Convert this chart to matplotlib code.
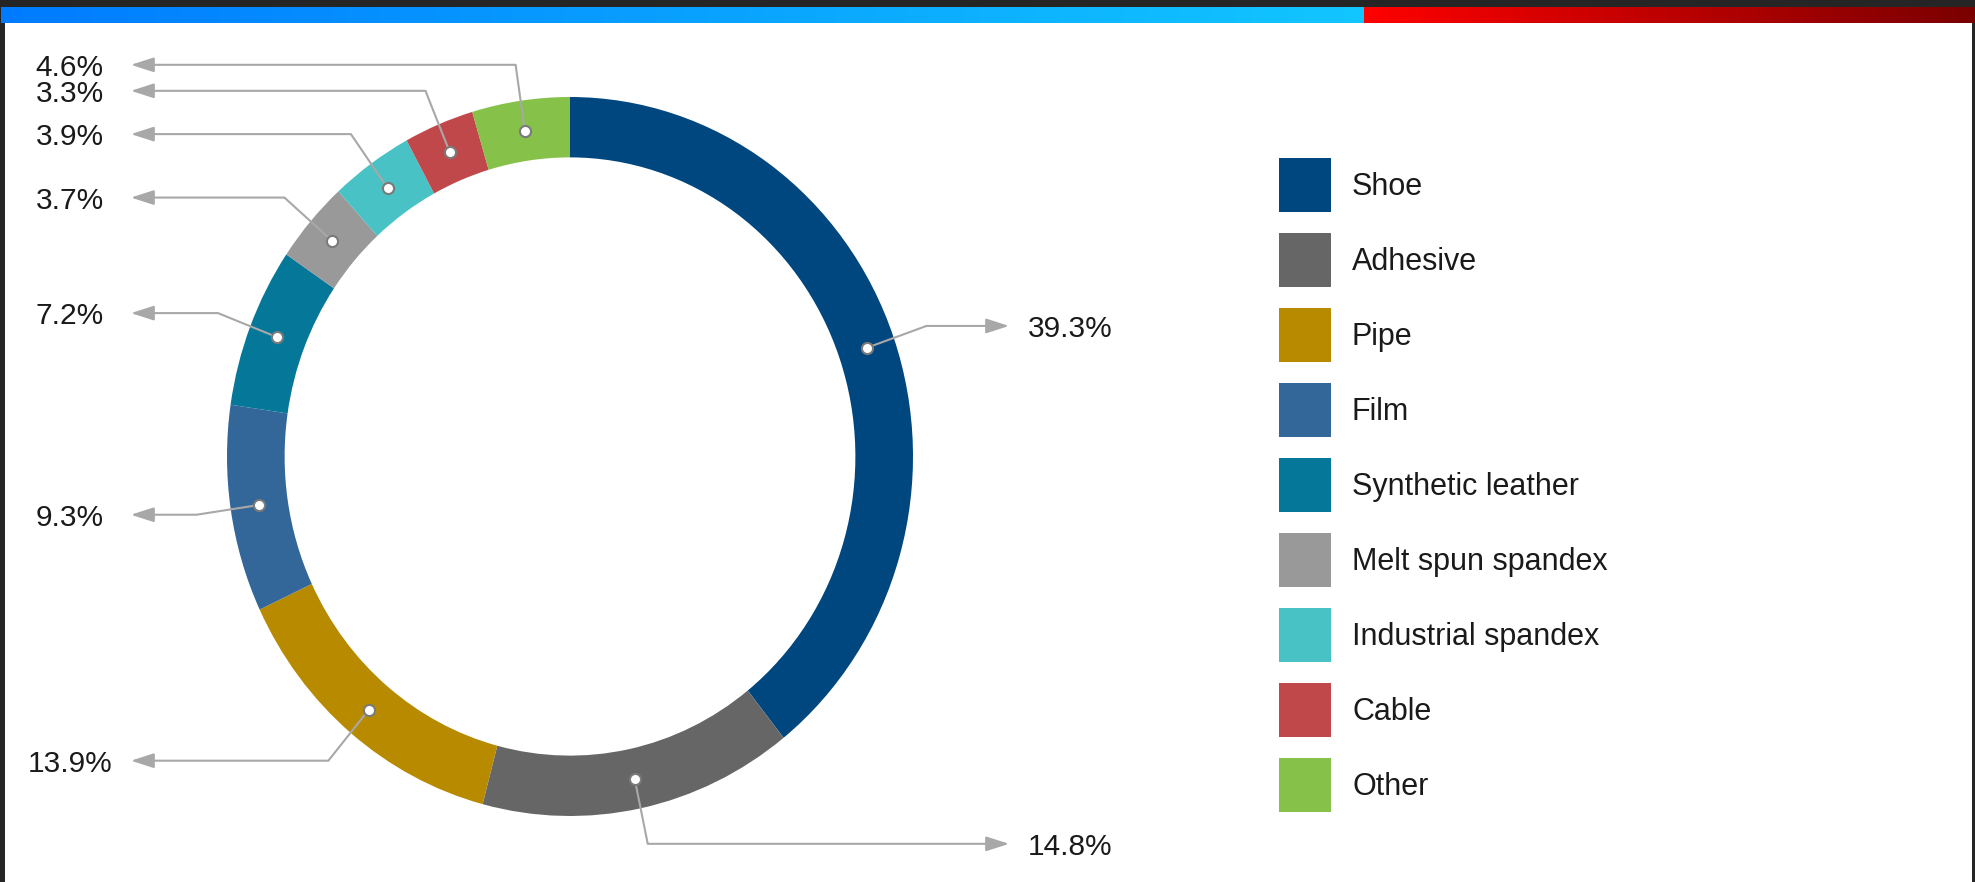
import numpy as np
import matplotlib.pyplot as plt
from matplotlib.patches import Wedge, Rectangle
from matplotlib.transforms import offset_copy

categories = ["Shoe", "Adhesive", "Pipe", "Film", "Synthetic leather",
              "Melt spun spandex", "Industrial spandex", "Cable", "Other"]
shares = [39.3, 14.8, 13.9, 9.3, 7.2, 3.7, 3.9, 3.3, 4.6]
colors = ["#00477f", "#666666", "#b88a00", "#336699", "#05789a",
          "#999999", "#48c2c4", "#c0484a", "#86c14a"]

W, H = 1975, 882
plt.rcParams['font.family'] = ['Liberation Sans', 'DejaVu Sans']

fig = plt.figure(figsize=(W / 100, H / 100), dpi=100)
fig.patch.set_facecolor('#252525')

# background layer in pixel coordinates (y down)
bg = fig.add_axes([0, 0, 1, 1])
bg.add_patch(Rectangle((5, 23), W - 8, H - 23, facecolor='white',
                       edgecolor='none', zorder=0))

t = np.linspace(0, 1, 256)[:, None]
blue = np.array([0, 123, 255]) / 255 * (1 - t) + np.array([18, 198, 255]) / 255 * t
red = np.array([255, 0, 0]) / 255 * (1 - t) + np.array([122, 0, 0]) / 255 * t
bg.imshow(blue[None, :, :], extent=(1, 1364, 23, 7), aspect='auto', zorder=1)
bg.imshow(red[None, :, :], extent=(1364, W, 23, 7), aspect='auto', zorder=1)

# legend
leg_tr = offset_copy(bg.transData, fig=fig, x=0, y=-2, units='dots')
for i, (name, c) in enumerate(zip(categories, colors)):
    y = 185 + 75 * i
    bg.add_patch(Rectangle((1279, y - 27), 52, 54, facecolor=c,
                           edgecolor='none', zorder=1))
    bg.text(1352, y, name, fontsize=22, color='#1a1a1a', va='center',
            ha='left', transform=leg_tr)

bg.set_xlim(0, W)
bg.set_ylim(H, 0)
bg.axis('off')

# donut
ax = fig.add_axes([227 / W, (H - 816) / H, 686 / W, 719 / H])
ax.set_xlim(-1, 1)
ax.set_ylim(-1, 1)
ax.set_aspect('auto')
ax.axis('off')

ring = 0.168
r_mid = 1 - ring / 2
r_elb = r_mid + 0.185
tip_x = 1.28
lab_x = 1.458
line_c = '#a8a8a8'
lab_tr = offset_copy(ax.transData, fig=fig, x=0, y=-3, units='dots')

start = 0.0
for name, v, c in zip(categories, shares, colors):
    t2 = 90 - start * 3.6
    t1 = 90 - (start + v) * 3.6
    ax.add_patch(Wedge((0, 0), 1, t1, t2, width=ring, facecolor=c,
                       edgecolor='none', zorder=1))
    mid = np.deg2rad((t1 + t2) / 2)
    dx, dy = r_mid * np.cos(mid), r_mid * np.sin(mid)
    ex, ey = r_elb * np.cos(mid), r_elb * np.sin(mid)
    side = 1 if np.cos(mid) >= 0 else -1
    ax.plot([dx, ex], [dy, ey], color=line_c, lw=1.5, zorder=2,
            clip_on=False, solid_capstyle='butt')
    ax.annotate('', xy=(side * tip_x, ey), xytext=(ex, ey),
                arrowprops=dict(arrowstyle='-|>,head_length=1.4,head_width=0.45',
                                color=line_c, lw=1.5, shrinkA=0, shrinkB=0),
                annotation_clip=False, zorder=2)
    ax.plot(dx, dy, 'o', ms=8, mfc='white', mec='#7a7a7a', mew=1.5,
            zorder=3, clip_on=False)
    ax.text(side * lab_x, ey, f"{v}%", fontsize=21.5, color='#1a1a1a',
            ha='center', va='center', clip_on=False, transform=lab_tr)
    start += v

fig.savefig('out.png', dpi=100, facecolor=fig.get_facecolor())
